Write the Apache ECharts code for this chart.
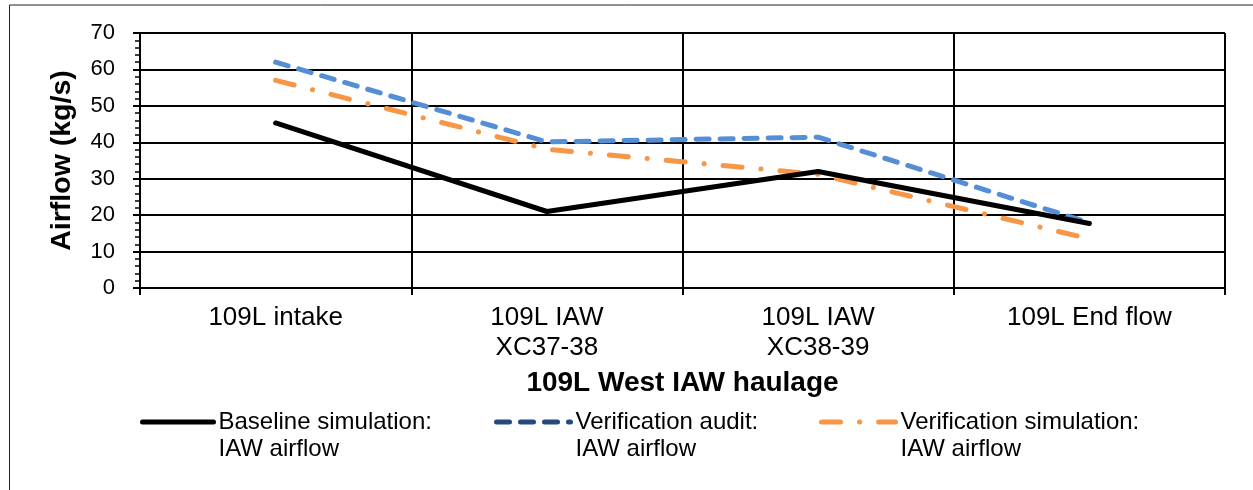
<!DOCTYPE html>
<html>
<head>
<meta charset="utf-8">
<script src="https://cdn.jsdelivr.net/npm/echarts@6/dist/echarts.min.js"></script>
<style>
html,body{margin:0;padding:0;background:#fff;}
#chart{width:1253px;height:490px;}
</style>
</head>
<body>
<div id="chart"></div>
<script>
var categories = ['109L intake', '109L IAW\nXC37-38', '109L IAW\nXC38-39', '109L End flow'];
var baseline = [45.3, 21, 32, 17.7];
var audit = [62, 40.1, 41.4, 17.9];
var verifSim = [57, 38.1, 31.2, 13.5];
var yTicks = {min: 0, max: 70, interval: 10};
var seriesNames = ['Baseline simulation:\nIAW airflow', 'Verification audit:\nIAW airflow', 'Verification simulation:\nIAW airflow'];

var FONT = '"Liberation Sans", Arial, sans-serif';
var chart = echarts.init(document.getElementById('chart'));

function legendFor(name, left, w, style) {
  return {
    left: left, top: 381.5, padding: 0,
    itemWidth: w, itemHeight: 14,
    data: [{name: name, lineStyle: style, itemStyle: {color: 'rgba(0,0,0,0)', borderColor: 'rgba(0,0,0,0)', borderWidth: 0, opacity: 0}}],
    formatter: function (n) { return ' \n' + n; },
    textStyle: {fontFamily: FONT, fontSize: 24, lineHeight: 27, color: '#000'},
    selectedMode: false
  };
}

chart.setOption({
  animation: false,
  backgroundColor: '#fff',
  graphic: [{
    type: 'rect', left: 7, top: 2.5, silent: true,
    shape: {width: 1400, height: 700},
    style: {fill: 'none', stroke: '#222', lineWidth: 1}
  }],
  grid: {left: 140, right: 28, top: 33, bottom: 202, containLabel: false},
  legend: [
    legendFor(seriesNames[0], 140, 71, {color: '#000', width: 5, type: 'solid', cap: 'round'}),
    legendFor(seriesNames[1], 494, 74, {color: '#24497E', width: 5, type: [13, 11], cap: 'round'}),
    legendFor(seriesNames[2], 819, 74, {color: '#F79646', width: 5, type: [19, 19, 0.1, 19], cap: 'round'})
  ],
  xAxis: {
    type: 'category',
    data: categories,
    boundaryGap: true,
    name: '109L West IAW haulage',
    nameLocation: 'middle',
    nameGap: 81,
    nameTextStyle: {fontFamily: FONT, fontSize: 28, fontWeight: 'bold', color: '#000'},
    axisLine: {lineStyle: {color: '#000', width: 2}},
    axisTick: {show: true, length: 7, lineStyle: {color: '#000', width: 2}},
    axisLabel: {fontFamily: FONT, fontSize: 26, lineHeight: 30, color: '#000', margin: 15, interval: 0},
    splitLine: {show: true, lineStyle: {color: '#000', width: 2}}
  },
  yAxis: {
    type: 'value',
    min: yTicks.min, max: yTicks.max, interval: yTicks.interval,
    name: 'Airflow (kg/s)',
    nameLocation: 'middle',
    nameRotate: 90,
    nameGap: 63,
    nameTextStyle: {fontFamily: FONT, fontSize: 28.5, fontWeight: 'bold', color: '#000'},
    axisLine: {show: true, lineStyle: {color: '#000', width: 2}},
    axisTick: {show: true, length: 7, lineStyle: {color: '#000', width: 2}},
    minorTick: {show: true, splitNumber: 5, length: 5, lineStyle: {color: '#000', width: 1.5}},
    axisLabel: {fontFamily: FONT, fontSize: 22, color: '#000', margin: 25},
    splitLine: {show: true, lineStyle: {color: '#000', width: 2}}
  },
  series: [
    {
      name: seriesNames[0], type: 'line', data: baseline, symbol: 'none', z: 5,
      lineStyle: {color: '#000', width: 5, type: 'solid', cap: 'round', join: 'round'},
      itemStyle: {color: '#000'}
    },
    {
      name: seriesNames[1], type: 'line', data: audit, symbol: 'none', z: 4,
      lineStyle: {color: '#558ED5', width: 5, type: [13, 11], cap: 'round', join: 'round'},
      itemStyle: {color: '#558ED5'}
    },
    {
      name: seriesNames[2], type: 'line', data: verifSim, symbol: 'none', z: 3,
      lineStyle: {color: '#F79646', width: 5, type: [19, 19, 0.1, 19], cap: 'round', join: 'round'},
      itemStyle: {color: '#F79646'}
    }
  ]
});
</script>
</body>
</html>
